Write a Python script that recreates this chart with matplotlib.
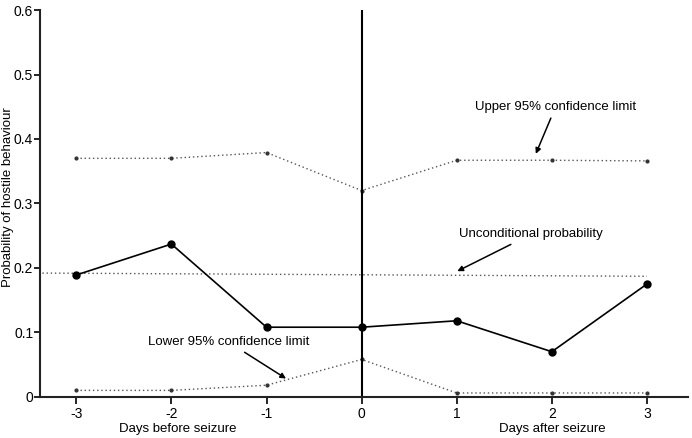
import matplotlib
matplotlib.use("Agg")
from matplotlib import pyplot as plt

plt.rcParams['font.family'] = ['Liberation Sans', 'DejaVu Sans']

# days relative to seizure
days = [-3, -2, -1, 0, 1, 2, 3]
observed = [0.189, 0.237, 0.108, 0.108, 0.118, 0.070, 0.175]
upper_ci = [0.370, 0.370, 0.379, 0.320, 0.367, 0.367, 0.366]
lower_ci = [0.010, 0.010, 0.018, 0.058, 0.006, 0.006, 0.006]
uncond_x = [-3.4, 3]
uncond_y = [0.192, 0.187]

yticks = [0, 0.1, 0.2, 0.3, 0.4, 0.5, 0.6]
ytick_labels = ['0', '0.1', '0.2', '0.3', '0.4', '0.5', '0.6']

fig = plt.figure(figsize=(6.92, 4.38), dpi=100)
ax = fig.add_axes([0.058, 0.094, 0.936, 0.883])

dot_col = '#555555'
ax.plot(days, upper_ci, linestyle=(0, (1, 2)), color=dot_col, lw=1.0,
        marker='o', ms=2, mfc='#333333', mec='#333333')
ax.plot(days, lower_ci, linestyle=(0, (1, 2)), color=dot_col, lw=1.0,
        marker='o', ms=2, mfc='#333333', mec='#333333')
ax.plot(uncond_x, uncond_y, linestyle=(0, (1, 2)), color=dot_col, lw=1.0)
ax.plot(days, observed, color='black', lw=1.2, marker='o', ms=5)
ax.axvline(0, color='black', lw=1.5)

ax.set_xlim(-3.38, 3.43)
ax.set_ylim(0, 0.6)
ax.set_xticks(days)
ax.set_xticklabels([str(d) for d in days])
ax.set_yticks(yticks)
ax.set_yticklabels(ytick_labels)
ax.tick_params(labelsize=10, width=1.2, direction='out')
ax.tick_params(axis='x', length=5, pad=2)
ax.tick_params(axis='y', length=4, pad=1)
for s in ['top', 'right']:
    ax.spines[s].set_visible(False)
for s in ['left', 'bottom']:
    ax.spines[s].set_linewidth(1.5)
    ax.spines[s].set_color('#222222')

arrow = dict(arrowstyle='-|>', color='black', lw=1.1, mutation_scale=8)
ax.annotate('Upper 95% confidence limit', xy=(1.82, 0.373), xytext=(2.04, 0.45),
            ha='center', va='center', fontsize=9.5, arrowprops=arrow)
ax.annotate('Unconditional probability', xy=(0.98, 0.193), xytext=(1.78, 0.252),
            ha='center', va='center', fontsize=9.5, arrowprops=arrow)
ax.annotate('Lower 95% confidence limit', xy=(-0.77, 0.026), xytext=(-1.4, 0.085),
            ha='center', va='center', fontsize=9.5, arrowprops=arrow)

fig.text(178 / 692, 1 - 429 / 438, 'Days before seizure', ha='center', va='center', fontsize=9.5)
fig.text(552 / 692, 1 - 429 / 438, 'Days after seizure', ha='center', va='center', fontsize=9.5)
fig.text(0.003, 1 - 197 / 438, 'Probability of hostile behaviour', rotation=90,
         ha='left', va='center', fontsize=9.5)

fig.savefig('out.png', dpi=100)
